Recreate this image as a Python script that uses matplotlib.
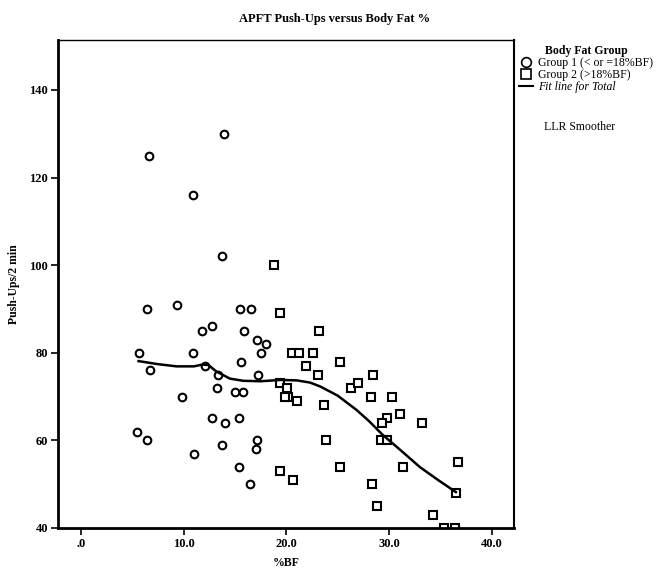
import matplotlib
matplotlib.use('Agg')
import matplotlib.pyplot as plt
from matplotlib.lines import Line2D

# Group 1 (<= 18 %BF), drawn as circles
g1_bf = [13.9, 6.6, 10.9, 13.7, 6.4, 9.3, 15.5, 16.6, 11.8, 12.8, 15.9, 17.1,
         18.0, 17.5, 5.6, 10.9, 15.6, 6.7, 12.1, 13.3, 17.2, 13.2, 15.0, 15.8,
         9.8, 12.8, 14.0, 15.4, 5.5, 6.4, 13.7, 17.1, 17.0, 11.0, 15.4, 16.5]
g1_pushups = [130, 125, 116, 102, 90, 91, 90, 90, 85, 86, 85, 83,
              82, 80, 80, 80, 78, 76, 77, 75, 75, 72, 71, 71,
              70, 65, 64, 65, 62, 60, 59, 60, 58, 57, 54, 50]

# Group 2 (> 18 %BF), drawn as squares
g2_bf = [18.8, 19.4, 23.2, 20.5, 21.2, 22.6, 21.9, 25.2, 23.1, 28.4, 19.4, 20.1,
         26.3, 27.0, 20.2, 19.9, 21.0, 23.7, 28.2, 30.3, 31.1, 29.8, 29.3, 33.2,
         29.2, 29.8, 23.9, 19.4, 20.6, 25.2, 31.4, 36.7, 28.3, 28.8, 34.3, 35.3,
         36.4, 36.5]
g2_pushups = [100, 89, 85, 80, 80, 80, 77, 78, 75, 75, 73, 72,
              72, 73, 70, 70, 69, 68, 70, 70, 66, 65, 64, 64,
              60, 60, 60, 53, 51, 54, 54, 55, 50, 45, 43, 40,
              40, 48]

# LLR smoother for the total sample
fit_bf = [5.6, 7.5, 9.3, 11.0, 11.8, 12.4, 13.2, 14.5, 15.8, 17.5, 19.4, 21.0,
          22.3, 23.3, 25.0, 26.8, 28.0, 29.4, 31.0, 33.0, 34.8, 36.5]
fit_pushups = [78.1, 77.4, 76.9, 76.9, 77.3, 77.2, 75.7, 74.1, 73.6, 73.5, 73.8, 73.7,
               73.2, 72.3, 70.2, 67.0, 64.5, 61.2, 58.0, 53.9, 50.9, 48.2]

x_ticks = [0, 10, 20, 30, 40]
x_ticklabels = ['.0', '10.0', '20.0', '30.0', '40.0']
y_ticks = [40, 60, 80, 100, 120, 140]

SERIF = ['Liberation Serif', 'DejaVu Serif']
plt.rcParams['font.family'] = SERIF

W, H = 669, 569
fig = plt.figure(figsize=(W / 100, H / 100), dpi=100)
ax = fig.add_axes([58 / W, 41 / H, 456 / W, 488 / H])

ax.plot(g1_bf, g1_pushups, linestyle='none', marker='o', markersize=5.5,
        markerfacecolor='white', markeredgecolor='black', markeredgewidth=1.5)
ax.plot(g2_bf, g2_pushups, linestyle='none', marker='s', markersize=5.5,
        markerfacecolor='white', markeredgecolor='black', markeredgewidth=1.5)
ax.plot(fit_bf, fit_pushups, color='black', linewidth=1.8)

ax.set_xlim(-2.24, 42.16)
ax.set_ylim(40, 151.4)
ax.set_xticks(x_ticks)
ax.set_xticklabels(x_ticklabels)
ax.set_yticks(y_ticks)
ax.tick_params(direction='out', length=5, width=1.2, labelsize=9, pad=2)
for lbl in ax.get_xticklabels() + ax.get_yticklabels():
    lbl.set_fontweight('bold')

ax.spines['left'].set_linewidth(2)
ax.spines['bottom'].set_linewidth(2)
ax.spines['top'].set_linewidth(1)
ax.spines['right'].set_linewidth(1.5)

ax.set_xlabel('%BF', fontsize=8.5, fontweight='bold', labelpad=5)
ax.set_ylabel('Push-Ups/2 min', fontsize=8.5, fontweight='bold', labelpad=7)

fig.text(0.5, 1 - 19 / H, 'APFT Push-Ups versus Body Fat %', ha='center',
         va='center', fontsize=9, fontweight='bold')

handles = [
    Line2D([], [], linestyle='none', marker='o', markersize=7,
           markerfacecolor='white', markeredgecolor='black', markeredgewidth=1.2),
    Line2D([], [], linestyle='none', marker='s', markersize=7,
           markerfacecolor='white', markeredgecolor='black', markeredgewidth=1.2),
    Line2D([], [], color='black', linewidth=1.5),
]
labels = ['Group 1 (< or =18%BF)', 'Group 2 (>18%BF)', 'Fit line for Total']
leg = ax.legend(handles, labels, loc='upper left', bbox_to_anchor=(519 / W, 1 - 45 / H),
                bbox_transform=fig.transFigure, frameon=False, fontsize=8.5,
                title='Body Fat Group', title_fontproperties={'weight': 'bold', 'size': 8.5},
                handlelength=1.2, handletextpad=0.4, labelspacing=0.0,
                borderpad=0, borderaxespad=0)
leg.get_texts()[2].set_style('italic')

fig.text(580 / W, 1 - 127 / H, 'LLR Smoother', ha='center', va='center', fontsize=8.5)

fig.savefig('out.png', dpi=100)
